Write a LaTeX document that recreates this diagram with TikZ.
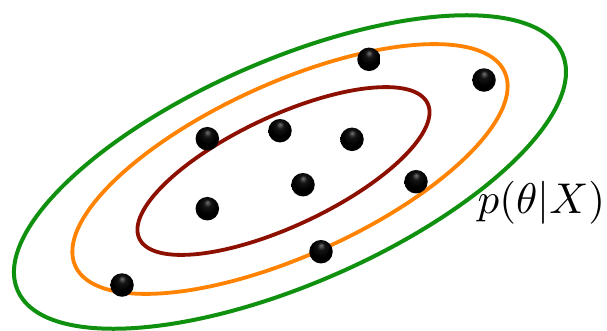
\documentclass[tikz,border=0pt]{standalone}
\definecolor{postgreen}{RGB}{15,145,15}
\definecolor{postorange}{RGB}{255,130,0}
\definecolor{postred}{RGB}{140,15,0}
\pgfdeclareradialshading{sampleshade}{\pgfpoint{0bp}{14bp}}{%
  color(0bp)=(black!55); color(8bp)=(black!92); color(20bp)=(black);
  color(44bp)=(black); color(50bp)=(black!70)}
\begin{document}
\begin{tikzpicture}[x=1pt, y=1pt,
  contour/.style={line width=3.8pt},
  sample/.style={circle, inner sep=0pt, minimum size=23.5pt, shading=sampleshade}]
  % centres of the three level sets (pixel coordinates, y downwards)
  \useasboundingbox (0,0) rectangle (607,-330);
  \coordinate (Cg) at (290,-172);
  \coordinate (Co) at (290,-169);
  \coordinate (Cr) at (283.5,-171);
  \draw[contour, line width=4pt, postgreen, rotate around={23.5:(Cg)}]
    (Cg) ellipse [x radius=297pt, y radius=112pt];
  \draw[contour, postorange, rotate around={24.3:(Co)}]
    (Co) ellipse [x radius=235.6pt, y radius=86.4pt];
  \draw[contour, postred, rotate around={25.1:(Cr)}]
    (Cr) ellipse [x radius=159.2pt, y radius=55pt];
  % samples
  \node[sample] (s1)  at (369,-59.3)  {};
  \node[sample] (s2)  at (484,-80)    {};
  \node[sample] (s3)  at (207.3,-138.7) {};
  \node[sample] (s4)  at (280,-130.7) {};
  \node[sample] (s5)  at (352,-139.3) {};
  \node[sample] (s6)  at (303,-184.7) {};
  \node[sample] (s7)  at (416,-181.7) {};
  \node[sample] (s8)  at (207.3,-208.7) {};
  \node[sample] (s9)  at (321,-251.7) {};
  \node[sample] (s10) at (122,-285)   {};
  \node[anchor=base east, inner sep=0pt, scale=4.3] (post) at (606,-213) {$p(\theta|X)$};
\end{tikzpicture}
\end{document}
